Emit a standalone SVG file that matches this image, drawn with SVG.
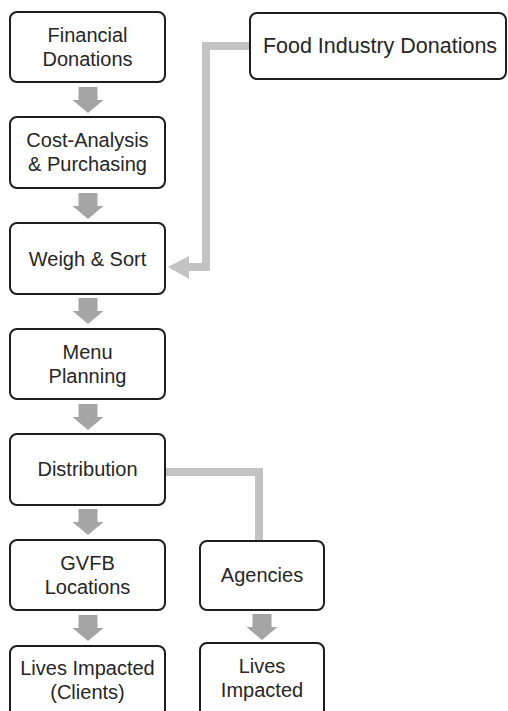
<svg xmlns="http://www.w3.org/2000/svg" width="508" height="711" viewBox="0 0 508 711">
<style>
.box{fill:#fff;stroke:#1e1e1e;stroke-width:2}
.t{font-family:"Liberation Sans",Arial,sans-serif;font-size:20px;fill:#262626;text-anchor:middle}
.big{font-size:21.5px}
.down{fill:#a5a5a5}
.conn{fill:none;stroke:#c3c3c3;stroke-width:8}
</style>
<defs>
<path id="dn" d="M-9.5,0 h19 v13 h6 l-15.5,13 l-15.5,-13 h6 z"/>
</defs>
<rect width="508" height="711" fill="#fff"/>
<g id="connectors">
<use href="#dn" class="down" x="88" y="87"/>
<use href="#dn" class="down" x="88" y="193"/>
<use href="#dn" class="down" x="88" y="298"/>
<use href="#dn" class="down" x="88" y="404"/>
<use href="#dn" class="down" x="88" y="509"/>
<use href="#dn" class="down" x="88" y="615"/>
<use href="#dn" class="down" x="262" y="614"/>
<path class="conn" d="M250,46 H206 V267 H186"/>
<path d="M168,267 L189,256 L189,279 Z" fill="#c3c3c3"/>
<path class="conn" d="M166,472 H259 V541"/>
</g>
<g id="financial"><rect class="box" x="10" y="12" width="155" height="70" rx="7"/><text class="t" x="87.5" y="42">Financial</text><text class="t" x="87.5" y="66">Donations</text></g>
<g id="food"><rect class="box" x="250" y="13" width="256" height="66" rx="7"/><text class="t big" x="380" y="53">Food Industry Donations</text></g>
<g id="cost"><rect class="box" x="10" y="117" width="155" height="71" rx="7"/><text class="t" x="87.5" y="147">Cost-Analysis</text><text class="t" x="87.5" y="171">&amp; Purchasing</text></g>
<g id="weigh"><rect class="box" x="10" y="223" width="155" height="71" rx="7"/><text class="t" x="87.5" y="266">Weigh &amp; Sort</text></g>
<g id="menu"><rect class="box" x="10" y="329" width="155" height="70" rx="7"/><text class="t" x="87.5" y="359">Menu</text><text class="t" x="87.5" y="383">Planning</text></g>
<g id="distribution"><rect class="box" x="10" y="434" width="155" height="71" rx="7"/><text class="t" x="87.5" y="476">Distribution</text></g>
<g id="gvfb"><rect class="box" x="10" y="540" width="155" height="70" rx="7"/><text class="t" x="87.5" y="570">GVFB</text><text class="t" x="87.5" y="594">Locations</text></g>
<g id="agencies"><rect class="box" x="200" y="541" width="124" height="69" rx="7"/><text class="t" x="262" y="582">Agencies</text></g>
<g id="lives1"><rect class="box" x="10" y="646" width="155" height="72" rx="7"/><text class="t" x="87.5" y="675">Lives Impacted</text><text class="t" x="87.5" y="699">(Clients)</text></g>
<g id="lives2"><rect class="box" x="200" y="643" width="124" height="75" rx="7"/><text class="t" x="262" y="673">Lives</text><text class="t" x="262" y="697">Impacted</text></g>
</svg>
